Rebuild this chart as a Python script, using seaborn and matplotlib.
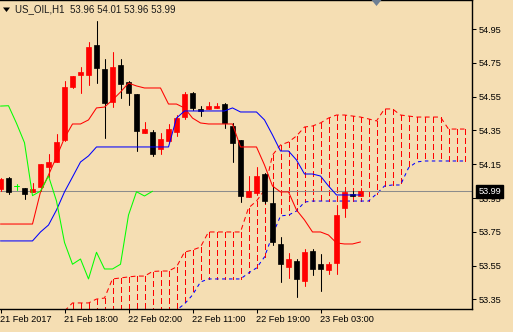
import numpy as np
import pandas as pd
import matplotlib
matplotlib.use("Agg")
import matplotlib.pyplot as plt
import matplotlib.transforms as mtransforms
from matplotlib.patches import Polygon
import seaborn as sns

# ---------------- data ----------------
opens  = [54.003, 54.070, 54.020, 54.007, 53.987, 54.017, 54.135, 54.165, 54.293, 54.609,
          54.678, 54.678, 54.855, 54.713, 54.520, 54.737, 54.635, 54.565, 54.336, 54.342,
          54.238, 54.289, 54.339, 54.431, 54.570, 54.477, 54.475, 54.480, 54.506, 54.378,
          54.293, 53.958, 53.978, 54.090, 53.920, 53.678, 53.543, 53.577, 53.461, 53.638,
          53.558, 53.524, 53.564, 53.889, 53.975, 53.960]
highs  = [54.070, 54.075, 54.035, 54.007, 54.040, 54.151, 54.210, 54.330, 54.644, 54.672,
          54.727, 54.875, 54.999, 54.772, 54.816, 54.772, 54.645, 54.565, 54.400, 54.350,
          54.333, 54.388, 54.441, 54.579, 54.580, 54.494, 54.520, 54.510, 54.510, 54.392,
          54.293, 54.080, 54.135, 54.100, 54.017, 53.717, 53.626, 53.589, 53.646, 53.648,
          53.617, 53.573, 53.909, 54.000, 53.990, 54.010]
lows   = [53.990, 53.974, 54.000, 53.946, 53.985, 53.990, 54.076, 54.165, 54.290, 54.603,
          54.570, 54.619, 54.632, 54.307, 54.490, 54.540, 54.500, 54.228, 54.336, 54.199,
          54.209, 54.280, 54.319, 54.420, 54.470, 54.435, 54.475, 54.480, 54.362, 54.165,
          53.928, 53.958, 53.970, 53.920, 53.672, 53.455, 53.475, 53.366, 53.429, 53.494,
          53.401, 53.499, 53.499, 53.839, 53.960, 53.960]
closes = [54.062, 53.987, 54.020, 53.974, 54.003, 54.151, 54.163, 54.283, 54.609, 54.672,
          54.697, 54.845, 54.721, 54.510, 54.727, 54.623, 54.570, 54.348, 54.356, 54.209,
          54.299, 54.357, 54.425, 54.565, 54.481, 54.463, 54.494, 54.496, 54.392, 54.277,
          53.964, 53.991, 54.080, 53.932, 53.687, 53.558, 53.589, 53.471, 53.629, 53.530,
          53.530, 53.558, 53.849, 53.987, 53.962, 53.990]

tenkan = [53.796, 53.796, 53.796, 53.796, 53.796, 53.986, 54.086, 54.193, 54.305, 54.388,
          54.388, 54.412, 54.483, 54.488, 54.530, 54.577, 54.630, 54.613, 54.601, 54.601,
          54.601, 54.506, 54.506, 54.483, 54.423, 54.394, 54.388, 54.388, 54.388, 54.388,
          54.252, 54.252, 54.252, 54.145, 54.021, 53.986, 53.986, 53.879, 53.820, 53.749,
          53.749, 53.731, 53.684, 53.678, 53.678, 53.690]
kijun  = [53.696, 53.696, 53.696, 53.696, 53.696, 53.749, 53.790, 53.879, 53.986, 54.074,
          54.163, 54.199, 54.252, 54.252, 54.252, 54.252, 54.252, 54.252, 54.252, 54.252,
          54.252, 54.252, 54.423, 54.465, 54.465, 54.465, 54.465, 54.465, 54.465, 54.483,
          54.459, 54.459, 54.459, 54.412, 54.323, 54.228, 54.228, 54.175, 54.092, 54.092,
          54.080, 54.021, 53.968, 53.968, 53.968, 53.968]

span_start = 8
span_a = [53.281, 53.329, 53.329, 53.329, 53.352, 53.358, 53.471, 53.477, 53.483, 53.488,
          53.488, 53.515, 53.518, 53.518, 53.542, 53.630, 53.642, 53.660, 53.749, 53.749,
          53.749, 53.749, 53.749, 53.891, 53.932, 53.997, 54.204, 54.264, 54.281, 54.317,
          54.370, 54.376, 54.394, 54.423, 54.441, 54.441, 54.435, 54.429, 54.418, 54.406,
          54.477, 54.477, 54.441, 54.435, 54.429, 54.429, 54.429, 54.429, 54.358, 54.358,
          54.358]
span_b = [53.250, 53.250, 53.250, 53.250, 53.250, 53.250, 53.250, 53.250, 53.250, 53.250,
          53.250, 53.250, 53.250, 53.250, 53.287, 53.323, 53.376, 53.453, 53.471, 53.471,
          53.471, 53.471, 53.471, 53.506, 53.536, 53.601, 53.731, 53.844, 53.849, 53.873,
          53.926, 53.932, 53.932, 53.932, 53.932, 53.932, 53.932, 53.932, 53.932, 53.974,
          54.021, 54.027, 54.027, 54.128, 54.163, 54.169, 54.169, 54.169, 54.169, 54.169,
          54.169]
chikou_shift = 26

x_tick_bars = [0, 8, 16, 24, 32, 40]
x_tick_labels = ["21 Feb 2017", "21 Feb 18:00", "22 Feb 02:00", "22 Feb 11:00",
                 "22 Feb 19:00", "23 Feb 03:00"]
y_ticks = [54.95, 54.75, 54.55, 54.35, 54.15, 53.95, 53.75, 53.55, 53.35]
last_price = 53.99
title_text = "US_OIL,H1  53.96 54.01 53.96 53.99"
shift_marker_bar = 47

# ---------------- style ----------------
sns.set_style("white")
BG = "#F5DEB3"
plt.rcParams["font.family"] = ["Liberation Sans", "DejaVu Sans"]
plt.rcParams["lines.scale_dashes"] = False

W, H = 513, 332
fig = plt.figure(figsize=(W / 100, H / 100), dpi=100, facecolor=BG)
ax = fig.add_axes([0, 23 / H, 472 / W, 309 / H], facecolor=BG)

n = len(closes)
bars = np.arange(n)
df = pd.DataFrame({"bar": bars, "open": opens, "high": highs, "low": lows,
                   "close": closes, "tenkan": tenkan, "kijun": kijun})
span_bars = np.arange(span_start, span_start + len(span_a))
cloud = pd.DataFrame({"bar": span_bars, "a": span_a, "b": span_b})
chik = pd.DataFrame({"bar": bars[:n - chikou_shift], "chikou": closes[chikou_shift:]})

LW = 0.75
RED = "#FF0000"

# cloud hatch (vertical dashed red lines between the spans)
for _, r in cloud.iterrows():
    lo, hi = min(r["a"], r["b"]), max(r["a"], r["b"])
    ax.plot([r["bar"], r["bar"]], [hi, lo], color=RED, linewidth=0.8,
            linestyle=(0, (4, 2.2)), antialiased=False, zorder=1)
sns.lineplot(data=cloud, x="bar", y="a", ax=ax, color=RED, linewidth=LW,
             linestyle=(0, (3.5, 2.5)), zorder=2)
sns.lineplot(data=cloud, x="bar", y="b", ax=ax, color="#0000FF", linewidth=LW,
             linestyle=(0, (2.5, 2.5)), zorder=2)

# price line
ax.axhline(last_price, color="#8C8C8C", linewidth=LW, zorder=2)

# candles
body_w = 0.625
for _, r in df.iterrows():
    o, c, h, l, x = r["open"], r["close"], r["high"], r["low"], r["bar"]
    if abs(c - o) < 1e-9:
        col = "#00FF00"
        ax.plot([x, x], [l, h], color=col, linewidth=LW, zorder=3)
        ax.plot([x - body_w / 2, x + body_w / 2], [o, o], color=col, linewidth=LW, zorder=3)
        continue
    col = RED if c > o else "#000000"
    ax.plot([x, x], [l, h], color=col, linewidth=LW, zorder=3)
    ax.bar(x, abs(c - o), bottom=min(o, c), width=body_w, color=col,
           edgecolor=col, linewidth=0.5, zorder=4)

# ichimoku lines
sns.lineplot(data=df, x="bar", y="tenkan", ax=ax, color=RED, linewidth=LW, zorder=5)
sns.lineplot(data=df, x="bar", y="kijun", ax=ax, color="#0000FF", linewidth=LW, zorder=5)
sns.lineplot(data=chik, x="bar", y="chikou", ax=ax, color="#00FF00", linewidth=LW, zorder=5)

# axes
ax.set_xlim(-0.0625, 58.9375)
ax.set_ylim(53.2932, 55.1216)
ax.set_xlabel("")
ax.set_ylabel("")
ax.spines["left"].set_visible(False)
for s in ["top", "right", "bottom"]:
    ax.spines[s].set_visible(True)
    ax.spines[s].set_color("black")
    ax.spines[s].set_linewidth(1.0)

ax.yaxis.tick_right()
ax.set_yticks(y_ticks)
ax.set_yticklabels([f"{v:.2f}" for v in y_ticks])
ax.set_xticks(x_tick_bars)
ax.set_xticklabels(x_tick_labels)
ax.tick_params(axis="y", which="both", direction="out", length=3, width=0.75,
               labelsize=6.6, pad=1.5, colors="black", right=True, left=False)
ax.tick_params(axis="x", which="both", direction="out", length=3, width=0.75,
               labelsize=6.6, pad=1.5, colors="black", bottom=True)
for lbl in ax.get_xticklabels():
    lbl.set_horizontalalignment("left")

# last price box on the scale
ax.annotate(f"{last_price:.2f}", xy=(1.0, last_price),
            xycoords=ax.get_yaxis_transform(), xytext=(4.6, 0),
            textcoords="offset points", ha="left", va="center", fontsize=6.6,
            color="white", zorder=10,
            bbox=dict(boxstyle="square,pad=0.22", fc="black", ec="black"))

# chart shift marker
trans = mtransforms.blended_transform_factory(ax.transData, ax.transAxes)
ax.add_patch(Polygon([[shift_marker_bar - 0.62, 1.0], [shift_marker_bar + 0.62, 1.0],
                      [shift_marker_bar, 1.0 - 6 / 309]], closed=True,
                     transform=trans, facecolor="#6E7F94", edgecolor="none",
                     clip_on=False, zorder=10))

# title
def px(x, y):
    return (x / W, 1 - y / H)

fig.patches.append(Polygon([px(3, 7.5), px(10, 7.5), px(6.5, 12)], closed=True,
                           transform=fig.transFigure, facecolor="black", edgecolor="none"))
fig.text(*px(15, 9), title_text, ha="left", va="center", fontsize=7.0, color="#1a1a1a")

fig.savefig("out.png", dpi=100, facecolor=BG)
